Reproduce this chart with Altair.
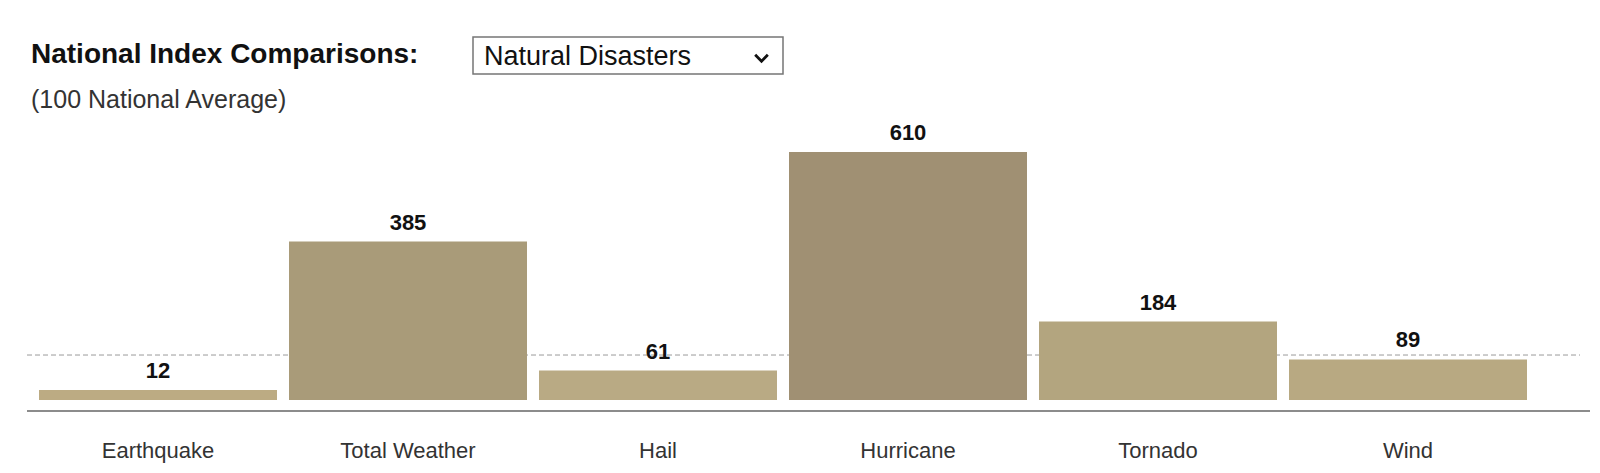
import altair as alt
import pandas as pd

# ---- data ----
categories = ["Earthquake", "Total Weather", "Hail", "Hurricane", "Tornado", "Wind"]
index_values = [12, 385, 61, 610, 184, 89]
bar_colors = ["#bcab83", "#a99b79", "#b9aa84", "#a09073", "#b3a57f", "#b8a982"]
national_average = 100

title_text = "National Index Comparisons:"
subtitle_text = "(100 National Average)"
dropdown_text = "Natural Disasters"

# ---- layout constants ----
LEFT = 33
PLOT_W = 1500
PLOT_H = 400
BASE = -13
YMAX = 992
FONT = "Liberation Sans"

df = pd.DataFrame({"category": categories, "value": index_values})
one = pd.DataFrame({"k": [0]})

xenc = alt.X(
    "category:N",
    sort=categories,
    scale=alt.Scale(paddingInner=0.048, paddingOuter=0.024),
    axis=alt.Axis(
        title=None, domain=False, ticks=False, tickSize=0, grid=False,
        labelFont=FONT, labelFontSize=22, labelColor="#333333",
        labelBaseline="alphabetic", labelPadding=57, labelAngle=0,
    ),
)
yscale = alt.Scale(domain=[BASE, YMAX], nice=False, zero=False)

avg_rule = alt.Chart(one).mark_rule(
    color="#9a9a9a", strokeDash=[5, 3], strokeWidth=1
).encode(
    y=alt.Y(datum=national_average, type="quantitative", scale=yscale, axis=None),
    x=alt.value(-6),
    x2=alt.value(1547),
)

bars = alt.Chart(df).mark_bar().encode(
    x=xenc,
    y=alt.Y("value:Q", scale=yscale, axis=None),
    y2=alt.datum(BASE),
    color=alt.Color("category:N", scale=alt.Scale(domain=categories, range=bar_colors), legend=None),
)

labels = alt.Chart(df).mark_text(
    font=FONT, fontSize=22, fontWeight="bold", color="#111111",
    baseline="alphabetic", dy=-12,
).encode(
    x=alt.X("category:N", sort=categories),
    y=alt.Y("value:Q"),
    text=alt.Text("value:Q"),
)

axis_line = alt.Chart(one).mark_rule(color="#8c8c8c", strokeWidth=2).encode(
    x=alt.value(-6), x2=alt.value(1557), y=alt.value(411)
)

title = alt.Chart(one).mark_text(
    font=FONT, fontSize=28, fontWeight="bold", color="#111111",
    align="left", baseline="alphabetic",
).encode(x=alt.value(-2), y=alt.value(63), text=alt.value(title_text))

subtitle = alt.Chart(one).mark_text(
    font=FONT, fontSize=25, color="#333333",
    align="left", baseline="alphabetic",
).encode(x=alt.value(-2), y=alt.value(108), text=alt.value(subtitle_text))

box = alt.Chart(one).mark_rect(fill="white", stroke="#767676", strokeWidth=1.5).encode(
    x=alt.value(440), x2=alt.value(750), y=alt.value(37), y2=alt.value(74)
)

box_text = alt.Chart(one).mark_text(
    font=FONT, fontSize=27, color="#111111", align="left", baseline="alphabetic",
).encode(x=alt.value(451), y=alt.value(65), text=alt.value(dropdown_text))

chevron = alt.Chart(one).mark_point(
    shape="M -1 -0.5 L 0 0.5 L 1 -0.5", filled=False, color="#111111",
    strokeWidth=2.8, size=160, opacity=1,
).encode(x=alt.value(728.5), y=alt.value(58))

chart = alt.layer(
    avg_rule, bars, labels, axis_line, title, subtitle, box, box_text, chevron
).properties(
    width=PLOT_W, height=PLOT_H,
    background="white",
    autosize=alt.AutoSizeParams(type="none"),
    padding={"left": LEFT, "top": 0, "right": 1600 - LEFT - PLOT_W, "bottom": 473 - PLOT_H},
).configure_view(strokeWidth=0, stroke="transparent")

chart.save("out.html", embed_options={"renderer": "svg", "actions": False})
